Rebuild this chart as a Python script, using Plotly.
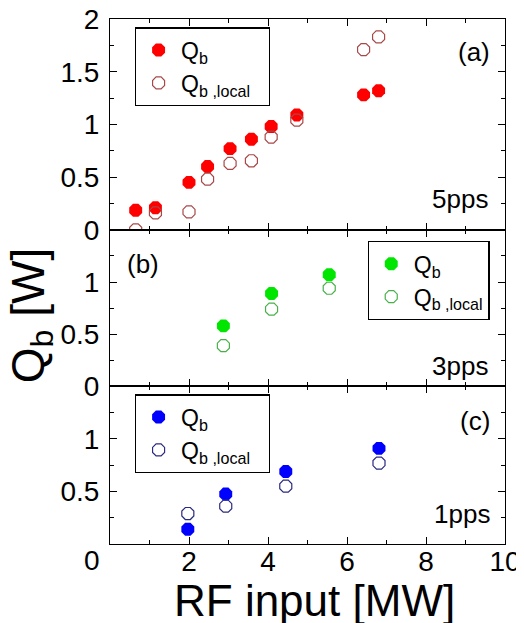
import plotly.graph_objects as go
from plotly.subplots import make_subplots

# Panel (a) 5pps
xa = [0.65, 1.15, 2.0, 2.47, 3.04, 3.58, 4.08, 4.73, 6.42, 6.8]
qa = [0.185, 0.21, 0.45, 0.60, 0.77, 0.86, 0.98, 1.09, 1.28, 1.32]
qa_loc = [0.0, 0.16, 0.17, 0.48, 0.63, 0.655, 0.88, 1.04, 1.71, 1.83]
# Panel (b) 3pps
xb = [2.87, 4.09, 5.55]
qb = [0.58, 0.89, 1.07]
qb_loc = [0.39, 0.74, 0.94]
# Panel (c) 1pps
xc = [1.97, 2.93, 4.45, 6.81]
qc = [0.14, 0.475, 0.69, 0.91]
qc_loc = [0.29, 0.36, 0.55, 0.77]
# tick labels
xticks = [2, 4, 6, 8, 10]

FONT = "Liberation Sans, Arial, sans-serif"

fig = make_subplots(rows=3, cols=1, shared_xaxes=True, vertical_spacing=0,
                    row_heights=[210, 156, 157])

panels = [
    (1, xa, qa, qa_loc, "#ff0000", "#a84848", "legend", "&nbsp;&nbsp;"),
    (2, xb, qb, qb_loc, "#00e600", "#48b048", "legend2", ""),
    (3, xc, qc, qc_loc, "#0000ff", "#2a2a80", "legend3", "&nbsp;&nbsp;"),
]
for row, x, q, ql, cf, co, lg, pad in panels:
    fig.add_trace(go.Scatter(x=x, y=q, mode="markers", name="Q<sub>b</sub>",
                             legendgroup=lg + "a",
                             marker=dict(symbol="octagon", size=14, color=cf, line=dict(width=0)),
                             legend=lg), row=row, col=1)
    fig.add_trace(go.Scatter(x=x, y=ql, mode="markers", name="Q<sub>b ,local</sub>" + pad,
                             legendgroup=lg + "b",
                             marker=dict(symbol="octagon-open", size=13, color=co, line=dict(width=1.2, color=co)),
                             legend=lg), row=row, col=1)

axis_common = dict(showline=True, linecolor="black", linewidth=1, mirror="allticks",
                   ticks="inside", ticklen=7, tickcolor="black", showgrid=False, zeroline=False,
                   automargin=False, ticklabeloverflow="allow",
                   tickfont=dict(family=FONT, size=28, color="black"))

for r in (1, 2, 3):
    fig.update_xaxes(range=[0, 10], tickvals=xticks, ticktext=[str(v) for v in xticks],
                     minor=dict(dtick=1, tick0=0, ticks="inside", ticklen=4, tickcolor="black"),
                     showticklabels=(r == 3), ticklabelstandoff=-8,
                     row=r, col=1, **axis_common)

ycommon = dict(ticklabelstandoff=4, **axis_common)
fig.update_yaxes(range=[0, 2], tickvals=[0, 0.5, 1, 1.5, 2], ticktext=["0", "0.5", "1", "1.5", "2"],
                 minor=dict(tickvals=[0.25, 0.75, 1.25, 1.75], ticks="inside", ticklen=4, tickcolor="black"),
                 row=1, col=1, **ycommon)
fig.update_yaxes(range=[0, 1.5], tickvals=[0, 0.5, 1], ticktext=["0", "0.5", "1"],
                 minor=dict(tickvals=[0.25, 0.75, 1.25], ticks="inside", ticklen=4, tickcolor="black"),
                 row=2, col=1, **ycommon)
fig.update_yaxes(range=[0, 1.5], tickvals=[0.5, 1], ticktext=["0.5", "1"],
                 minor=dict(tickvals=[0.25, 0.75, 1.25], ticks="inside", ticklen=4, tickcolor="black"),
                 row=3, col=1, **ycommon)

leg = dict(bgcolor="white", bordercolor="black", borderwidth=1.2,
           font=dict(family=FONT, size=23, color="black"),
           xanchor="left", yanchor="top", tracegroupgap=0, itemwidth=35,
           traceorder="grouped")

# the page body adds an 8px offset; margins compensate so the plot area sits at page x 110-505, y 19-544
fig.update_layout(
    width=524, height=623,
    margin=dict(l=102, r=27, t=11, b=87, autoexpand=False),
    plot_bgcolor="white", paper_bgcolor="white",
    showlegend=True,
    legend=dict(x=0.063, y=0.984, **leg),
    legend2=dict(x=0.652, y=0.577, **leg),
    legend3=dict(x=0.063, y=0.285, **leg),
)

def ann(text, x, y, xanchor, size=26, textangle=0):
    fig.add_annotation(text=text, x=x, y=y, xref="paper", yref="paper", xanchor=xanchor, yanchor="middle",
                       showarrow=False, textangle=textangle, font=dict(family=FONT, size=size, color="black"))

def px_x(p):
    return (p - 110) / 395.0

def px_y(p):
    return (543.7 - p) / 524.7

ann("(a)", px_x(492), px_y(52), "right")
ann("5pps", px_x(490), px_y(199), "right")
ann("(b)", px_x(125), px_y(264), "left")
ann("3pps", px_x(490), px_y(366), "right")
ann("(c)", px_x(492), px_y(421), "right")
ann("1pps", px_x(492), px_y(514), "right")
ann("0", px_x(102), px_y(560), "right", size=28)
ann("Q<sub>b</sub> [W]", px_x(31), px_y(316), "center", size=46, textangle=-90)
ann("RF input [MW]", px_x(314), px_y(600), "center", size=44)

fig.write_html("out.html")
